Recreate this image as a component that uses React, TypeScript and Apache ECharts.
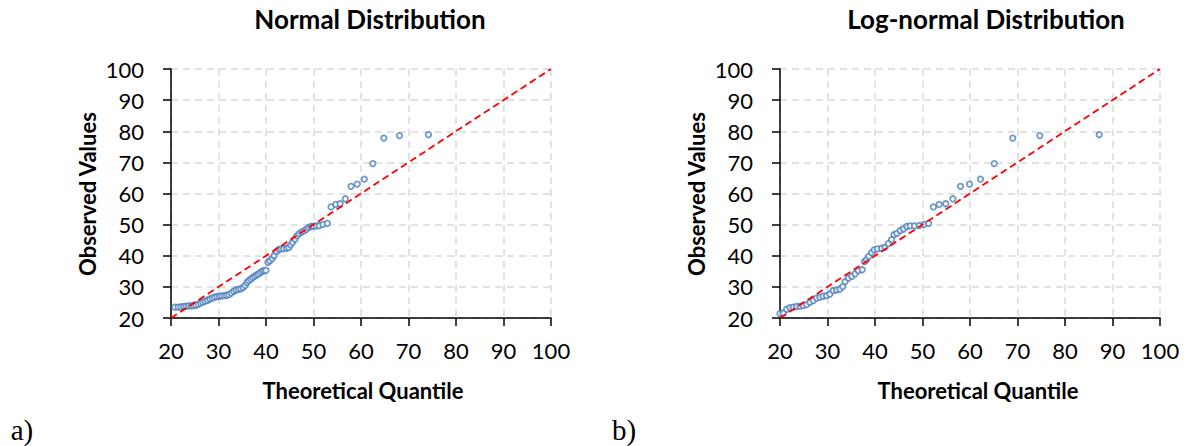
import React, { useEffect, useRef } from "react";
import * as echarts from "echarts";

// Normal Q-Q plot (theoretical quantile, observed value)
const normalTheoretical = [
  20.8, 21.5, 22.1, 22.7, 23.2, 23.7, 24.2, 24.7, 25.2, 25.7, 26.2, 26.7, 27.2, 27.7, 28.2, 28.7,
  29.2, 29.7, 30.2, 30.7, 31.2, 31.7, 32.2, 32.7, 33.2, 33.7, 34.2, 34.7, 35.2, 35.6, 36.0, 36.4,
  36.8, 37.2, 37.6, 38.0, 38.4, 38.8, 39.2, 39.6, 40.0, 40.4, 40.8, 41.3, 41.7, 42.2, 42.7, 43.2,
  43.7, 44.3, 44.8, 45.2, 45.6, 46.1, 46.5, 47.0, 47.5, 48.0, 48.5, 49.0, 49.5, 50.0, 50.6, 51.2,
  52.0, 52.9, 53.7, 54.7, 55.6, 56.7, 57.9, 59.2, 60.7, 62.5, 64.8, 68.1, 74.2,
];
const normalObserved = [
  23.5, 23.5, 23.6, 23.7, 23.8, 23.9, 23.9, 24.0, 24.1, 24.4, 24.8, 25.1, 25.4, 25.7, 26.1, 26.4,
  26.7, 26.9, 27.0, 27.1, 27.2, 27.3, 27.5, 28.0, 28.6, 29.0, 29.2, 29.4, 29.8, 30.5, 31.4, 32.0,
  32.5, 33.0, 33.4, 33.8, 34.1, 34.6, 35.0, 35.2, 35.3, 37.9, 38.4, 39.1, 40.0, 41.3, 42.0, 42.2,
  42.3, 42.4, 42.6, 43.5, 44.3, 45.3, 46.4, 47.1, 47.6, 48.0, 48.5, 49.1, 49.4, 49.5, 49.6, 49.7,
  50.1, 50.4, 55.7, 56.5, 56.7, 58.3, 62.3, 63.0, 64.6, 69.6, 77.8, 78.6, 78.9,
];

// Log-normal Q-Q plot
const lognormTheoretical = [
  20.0, 20.7, 21.4, 22.1, 22.8, 23.5, 24.2, 24.9, 25.6, 26.3, 27.0, 27.7, 28.4, 29.1, 29.8, 30.5,
  31.2, 31.9, 32.6, 33.2, 33.7, 34.4, 35.1, 35.8, 36.5, 37.3, 37.8, 38.2, 38.7, 39.3, 39.8, 40.5,
  41.4, 42.1, 42.8, 43.5, 44.0, 44.6, 45.3, 46.0, 46.7, 47.4, 48.3, 49.3, 50.3, 51.3, 52.3, 53.5,
  54.9, 56.4, 58.0, 59.9, 62.2, 65.1, 69.0, 74.7, 87.2,
];
const lognormObserved = [
  21.4, 21.6, 22.8, 23.3, 23.5, 23.7, 23.8, 24.0, 24.3, 25.0, 25.6, 26.4, 26.7, 27.0, 27.2, 27.7,
  28.8, 29.0, 29.3, 30.1, 31.7, 32.8, 33.4, 34.2, 35.2, 35.5, 38.1, 38.7, 39.8, 41.0, 41.9, 42.2,
  42.4, 42.7, 43.9, 45.2, 46.8, 47.2, 48.1, 48.6, 49.4, 49.6, 49.6, 49.7, 50.1, 50.4, 55.7, 56.5,
  56.7, 58.3, 62.3, 63.0, 64.6, 69.6, 77.8, 78.6, 78.9,
];

const referenceLine = [
  [20, 20],
  [100, 100],
];

const axisMin = 20;
const axisMax = 100;
const axisInterval = 10;

const titles = ["Normal Distribution", "Log-normal Distribution"];
const xAxisTitle = "Theoretical Quantile";
const yAxisTitle = "Observed Values";
const panelLabels = ["a)", "b)"];

const FONT = "Lato, 'Open Sans', sans-serif";

export default function App() {
  const ref = useRef<HTMLDivElement>(null);
  useEffect(() => {
    if (!ref.current) return;
    const chart = echarts.init(ref.current, undefined, { renderer: "svg" });

    const grids = [
      { left: 171, top: 69, width: 380, height: 249 },
      { left: 780, top: 69, width: 380, height: 249 },
    ];

    const mkAxis = (idx: number, isX: boolean) => ({
      type: "value",
      gridIndex: idx,
      min: axisMin,
      max: axisMax,
      interval: axisInterval,
      axisLine: { show: true, onZero: false, lineStyle: { color: "#000", width: 1.5 } },
      axisTick: { show: true, inside: false, length: 8, lineStyle: { color: "#000", width: 1.5 } },
      axisLabel: {
        color: "#000",
        fontFamily: FONT,
        fontSize: 22,
        margin: isX ? 21 : 27,
      },
      splitLine: {
        show: true,
        lineStyle: { color: "#D9D9D9", width: 1.5, type: [7, 5] },
      },
    });

    const scatterStyle = {
      type: "scatter",
      symbol: "circle",
      symbolSize: 5.5,
      itemStyle: { color: "#fff", borderColor: "#4A7EBB", borderWidth: 1.8 },
      z: 2,
    };

    const lineStyle = (idx: number) => ({
      type: "line",
      xAxisIndex: idx,
      yAxisIndex: idx,
      data: referenceLine,
      symbol: "none",
      lineStyle: { color: "#FF0000", width: 1.8, type: [7, 4] },
      z: 3,
    });

    const textEl = (text: string, x: number, y: number, font: string, rotation = 0) => ({
      type: "text",
      x,
      y,
      rotation,
      style: { text, font, fill: "#000", align: "center", verticalAlign: "middle" },
    });

    chart.setOption({
      animation: false,
      grid: grids,
      xAxis: [mkAxis(0, true), mkAxis(1, true)],
      yAxis: [mkAxis(0, false), mkAxis(1, false)],
      series: [
        {
          ...scatterStyle,
          xAxisIndex: 0,
          yAxisIndex: 0,
          data: normalTheoretical.map((x, i) => [x, normalObserved[i]]),
        },
        {
          ...scatterStyle,
          xAxisIndex: 1,
          yAxisIndex: 1,
          data: lognormTheoretical.map((x, i) => [x, lognormObserved[i]]),
        },
        lineStyle(0),
        lineStyle(1),
      ],
      graphic: [
        textEl(titles[0], 370, 19, `bold 26px ${FONT}`),
        textEl(titles[1], 986, 19, `bold 26px ${FONT}`),
        textEl(yAxisTitle, 87, 194, `bold 22px ${FONT}`, Math.PI / 2),
        textEl(yAxisTitle, 696, 194, `bold 22px ${FONT}`, Math.PI / 2),
        textEl(xAxisTitle, 363, 390, `bold 22px ${FONT}`),
        textEl(xAxisTitle, 978, 390, `bold 22px ${FONT}`),
        textEl(panelLabels[0], 22, 430, `29px 'Liberation Serif', serif`),
        textEl(panelLabels[1], 624, 430, `29px 'Liberation Serif', serif`),
      ],
    });
    return () => chart.dispose();
  }, []);
  return (
    <div
      ref={ref}
      style={{ position: "absolute", left: 0, top: 0, width: 1189, height: 446, background: "#fff" }}
    />
  );
}
